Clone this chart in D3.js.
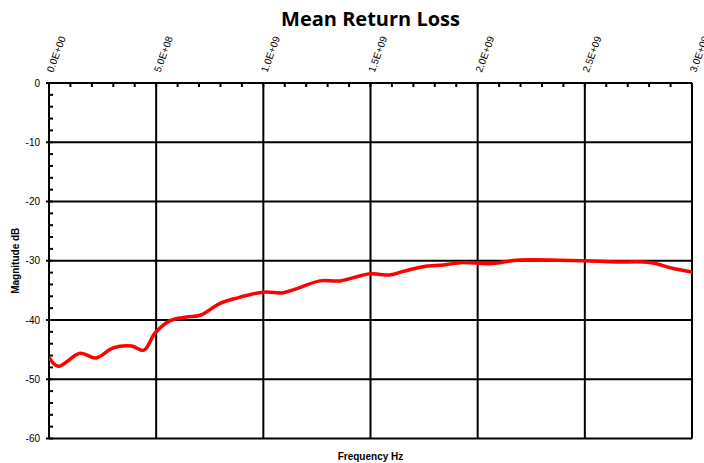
<!DOCTYPE html>
<html lang="en">

<head>
  <meta charset="UTF-8">
  <script src="https://d3js.org/d3.v7.min.js"></script>
  <title>Mean Return Loss</title>
  <style>
    body {
      margin: 0;
      background: white;
      font-family: Arial, 'Liberation Sans', sans-serif;
    }
  </style>
</head>

<body>
  <svg id='chart' width='704' height='463'></svg>

  <script>
    // frequency (Hz) and mean return loss (dB)
    const freqs = [0, 0.043e9, 0.145e9, 0.219e9, 0.30e9, 0.386e9, 0.443e9, 0.495e9, 0.565e9, 0.642e9,
      0.705e9, 0.798e9, 0.876e9, 1.0e9, 1.093e9, 1.156e9, 1.264e9, 1.358e9, 1.498e9, 1.591e9,
      1.653e9, 1.746e9, 1.84e9, 1.933e9, 2.058e9, 2.182e9, 2.384e9, 2.5e9, 2.649e9, 2.804e9,
      2.913e9, 3.0e9];
    const magnitudes = [-46.3, -47.8, -45.6, -46.4, -44.7, -44.4, -45.1, -42.2, -40.1, -39.5,
      -39.2, -37.2, -36.3, -35.3, -35.4, -34.7, -33.4, -33.4, -32.2, -32.4,
      -31.8, -31.0, -30.7, -30.3, -30.5, -29.9, -29.9, -30.0, -30.2, -30.3,
      -31.3, -31.9];
    const xTicks = [0, 0.5e9, 1.0e9, 1.5e9, 2.0e9, 2.5e9, 3.0e9];
    const xTickLabels = ['0.0E+00', '5.0E+08', '1.0E+09', '1.5E+09', '2.0E+09', '2.5E+09', '3.0E+09'];
    const yTicks = [0, -10, -20, -30, -40, -50, -60];

    const svg = d3.select('#chart');
    const margin = { top: 83, right: 12, bottom: 24.5, left: 49 };
    const width = 704 - margin.left - margin.right;
    const height = 463 - margin.top - margin.bottom;

    const g = svg.append('g')
      .attr('transform', 'translate(' + margin.left + ',' + margin.top + ')');

    const x = d3.scaleLinear().domain([0, 3e9]).range([0, width]);
    const y = d3.scaleLinear().domain([-60, 0]).range([height, 0]);

    // minor ticks
    const xMinor = d3.range(0, 3e9 + 1, 1e8);
    g.selectAll('line.xminor').data(xMinor)
      .join('line')
      .attr('class', 'xminor')
      .attr('x1', d => x(d)).attr('x2', d => x(d))
      .attr('y1', 0).attr('y2', 4)
      .attr('stroke', 'black').attr('stroke-width', 2);

    const yMinor = d3.range(-60, 0.1, 2);
    g.selectAll('line.yminor').data(yMinor)
      .join('line')
      .attr('class', 'yminor')
      .attr('x1', 0).attr('x2', 4)
      .attr('y1', d => y(d)).attr('y2', d => y(d))
      .attr('stroke', 'black').attr('stroke-width', 2);

    // grid lines
    g.selectAll('line.vgrid').data(xTicks)
      .join('line')
      .attr('class', 'vgrid')
      .attr('x1', d => x(d)).attr('x2', d => x(d))
      .attr('y1', 0).attr('y2', height)
      .attr('stroke', 'black').attr('stroke-width', 2);

    g.selectAll('line.hgrid').data(yTicks)
      .join('line')
      .attr('class', 'hgrid')
      .attr('x1', -3).attr('x2', width)
      .attr('y1', d => y(d)).attr('y2', d => y(d))
      .attr('stroke', 'black').attr('stroke-width', 2);

    // y tick labels
    g.selectAll('text.ylab').data(yTicks)
      .join('text')
      .attr('class', 'ylab')
      .attr('x', -9)
      .attr('y', d => y(d))
      .attr('dy', '0.35em')
      .attr('text-anchor', 'end')
      .style('font-size', '10px')
      .text(d => d);

    // x tick labels (top, rotated)
    g.selectAll('text.xlab').data(xTicks)
      .join('text')
      .attr('class', 'xlab')
      .attr('transform', d => 'translate(' + (x(d) + 4) + ',-10) rotate(-70)')
      .attr('text-anchor', 'start')
      .style('font-size', '10px')
      .text((d, i) => xTickLabels[i]);

    // data line
    svg.append('clipPath').attr('id', 'clip')
      .append('rect').attr('width', width).attr('height', height);

    const line = d3.line()
      .x((d, i) => x(freqs[i]))
      .y(d => y(d))
      .curve(d3.curveCatmullRom.alpha(0.5));

    g.append('path')
      .datum(magnitudes)
      .attr('clip-path', 'url(#clip)')
      .attr('d', line)
      .attr('fill', 'none')
      .attr('stroke', '#ff0000')
      .attr('stroke-width', 3.5)
      .attr('stroke-linejoin', 'round');

    // titles
    svg.append('text')
      .attr('x', margin.left + width / 2)
      .attr('y', 26)
      .attr('text-anchor', 'middle')
      .style('font-family', "'Open Sans', sans-serif")
      .style('font-weight', 'bold')
      .style('font-size', '20px')
      .text('Mean Return Loss');

    svg.append('text')
      .attr('x', margin.left + width / 2)
      .attr('y', 460)
      .attr('text-anchor', 'middle')
      .style('font-weight', 'bold')
      .style('font-size', '10px')
      .text('Frequency Hz');

    svg.append('text')
      .attr('transform', 'translate(19,' + (margin.top + height / 2) + ') rotate(-90)')
      .attr('text-anchor', 'middle')
      .style('font-weight', 'bold')
      .style('font-size', '10px')
      .text('Magnitude dB');
  </script>
</body>

</html>
